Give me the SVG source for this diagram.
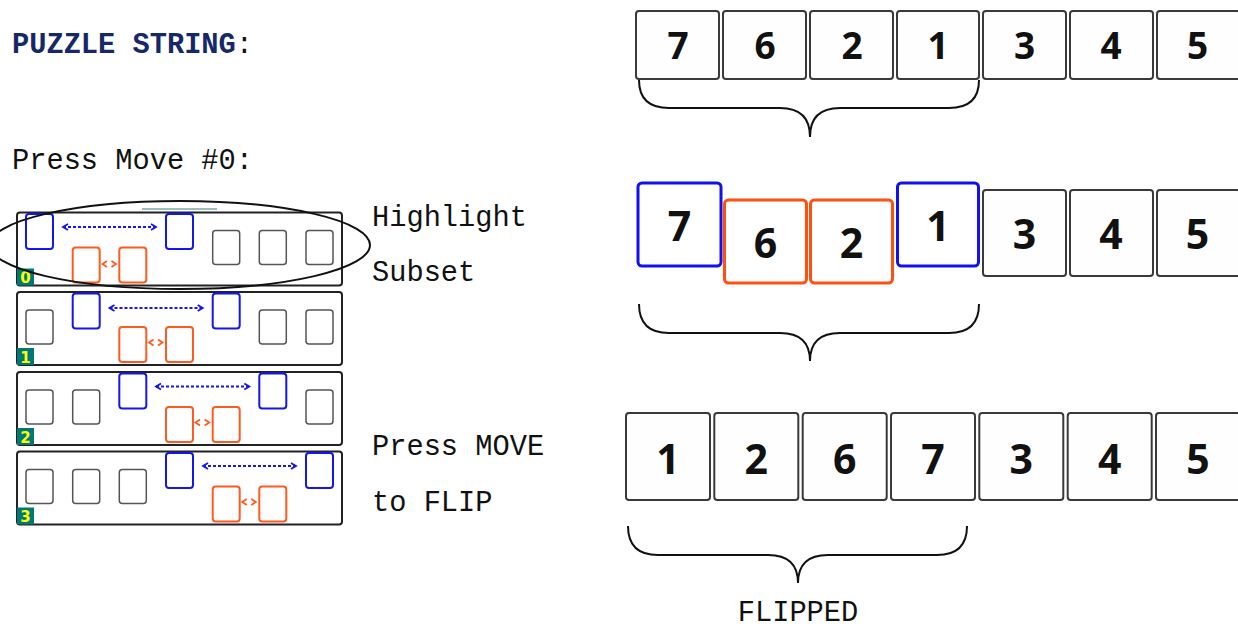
<svg xmlns="http://www.w3.org/2000/svg" width="1238" height="630" viewBox="0 0 1238 630">
  <defs>
    <style>
      .mono { font-family: "Liberation Mono", "Courier New", monospace; font-size: 28.7px; fill: #111; }
      .title { font-weight: bold; fill: #15296a; }
      .tile { fill: #fefefe; stroke: #3a3a3a; stroke-width: 2; }
      .tile-blue { fill: #fff; stroke: #1010f0; stroke-width: 3; }
      .tile-orange { fill: #fff; stroke: #ff5010; stroke-width: 3; }
      .digit { font-family: "Open Sans", "Noto Sans", sans-serif; font-weight: bold; fill: #111; text-anchor: middle; }
      .brace { fill: none; stroke: #111; stroke-width: 2; }
      .panel { fill: #fff; stroke: #222; stroke-width: 2; }
      .slot { fill: #fff; stroke: #555; stroke-width: 1.5; }
      .slot-blue { fill: #fff; stroke: #1515ee; stroke-width: 2; }
      .slot-orange { fill: #fff; stroke: #ff5a1f; stroke-width: 2; }
      .swap { fill: none; stroke: #1515ee; stroke-width: 1.8; stroke-dasharray: 3 2; }
      .chev-b { fill: none; stroke: #1515ee; stroke-width: 1.8; }
      .chev-o { fill: none; stroke: #ff5a1f; stroke-width: 1.8; }
      .badge { fill: #007878; }
      .badge-text { font-family: "DejaVu Sans", sans-serif; font-weight: bold; font-size: 15px; fill: #ffff00; text-anchor: middle; }
    </style>
    <!-- slot shapes used inside the move panels -->
    <g id="slot-gray"><rect class="slot" width="27" height="34" rx="3"/></g>
    <g id="slot-blue"><rect class="slot-blue" width="27" height="35" rx="3"/></g>
    <g id="slot-orange"><rect class="slot-orange" width="27" height="35" rx="3"/></g>
  </defs>

  <rect width="1238" height="630" fill="#fff"/>

  <!-- left column labels -->
  <text class="mono" x="12" y="53"><tspan class="title">PUZZLE STRING</tspan>:</text>
  <text class="mono" x="12" y="169">Press Move #0:</text>
  <text class="mono" x="372" y="226">Highlight</text>
  <text class="mono" x="372" y="281">Subset</text>
  <text class="mono" x="372" y="455">Press MOVE</text>
  <text class="mono" x="372" y="511">to FLIP</text>

  <!-- move panels: blue pair at slots k and k+3, orange pair at k+1 and k+2 -->
  <line x1="142" y1="209" x2="217" y2="209" stroke="#3a7d7d" stroke-width="1"/>

  <g id="panel-0">
    <rect class="panel" x="17" y="212.5" width="325" height="73" rx="3"/>
    <use href="#slot-blue" x="26" y="214"/>
    <use href="#slot-orange" x="72.7" y="247.5"/>
    <use href="#slot-orange" x="119.3" y="247.5"/>
    <use href="#slot-blue" x="166" y="214"/>
    <use href="#slot-gray" x="212.7" y="230.5"/>
    <use href="#slot-gray" x="259.3" y="230.5"/>
    <use href="#slot-gray" x="306" y="230.5"/>
    <line class="swap" x1="63" y1="227" x2="156" y2="227"/>
    <polyline class="chev-b" points="68,224 63,227 68,230"/>
    <polyline class="chev-b" points="151,224 156,227 151,230"/>
    <polyline class="chev-o" points="107,261 102.5,264 107,267"/>
    <polyline class="chev-o" points="111.5,261 116,264 111.5,267"/>
    <rect class="badge" x="17" y="268.5" width="17" height="17"/>
    <text class="badge-text" x="25.5" y="283">0</text>
  </g>

  <g id="panel-1">
    <rect class="panel" x="17" y="292" width="325" height="73" rx="3"/>
    <use href="#slot-gray" x="26" y="310"/>
    <use href="#slot-blue" x="72.7" y="293.5"/>
    <use href="#slot-orange" x="119.3" y="327"/>
    <use href="#slot-orange" x="166" y="327"/>
    <use href="#slot-blue" x="212.7" y="293.5"/>
    <use href="#slot-gray" x="259.3" y="310"/>
    <use href="#slot-gray" x="306" y="310"/>
    <line class="swap" x1="109.5" y1="308" x2="202.7" y2="308"/>
    <polyline class="chev-b" points="114.5,305 109.5,308 114.5,311"/>
    <polyline class="chev-b" points="197.7,305 202.7,308 197.7,311"/>
    <polyline class="chev-o" points="153.5,339.5 149,342.5 153.5,345.5"/>
    <polyline class="chev-o" points="158,339.5 162.5,342.5 158,345.5"/>
    <rect class="badge" x="17" y="348" width="17" height="17"/>
    <text class="badge-text" x="25.5" y="362.5">1</text>
  </g>

  <g id="panel-2">
    <rect class="panel" x="17" y="372" width="325" height="73" rx="3"/>
    <use href="#slot-gray" x="26" y="390"/>
    <use href="#slot-gray" x="72.7" y="390"/>
    <use href="#slot-blue" x="119.3" y="373.5"/>
    <use href="#slot-orange" x="166" y="407"/>
    <use href="#slot-orange" x="212.7" y="407"/>
    <use href="#slot-blue" x="259.3" y="373.5"/>
    <use href="#slot-gray" x="306" y="390"/>
    <line class="swap" x1="156" y1="386.5" x2="249.3" y2="386.5"/>
    <polyline class="chev-b" points="161,383.5 156,386.5 161,389.5"/>
    <polyline class="chev-b" points="244.3,383.5 249.3,386.5 244.3,389.5"/>
    <polyline class="chev-o" points="200,419.5 195.5,422.5 200,425.5"/>
    <polyline class="chev-o" points="204.7,419.5 209.2,422.5 204.7,425.5"/>
    <rect class="badge" x="17" y="428" width="17" height="17"/>
    <text class="badge-text" x="25.5" y="442.5">2</text>
  </g>

  <g id="panel-3">
    <rect class="panel" x="17" y="451.5" width="325" height="73" rx="3"/>
    <use href="#slot-gray" x="26" y="469.5"/>
    <use href="#slot-gray" x="72.7" y="469.5"/>
    <use href="#slot-gray" x="119.3" y="469.5"/>
    <use href="#slot-blue" x="166" y="453"/>
    <use href="#slot-orange" x="212.7" y="486.5"/>
    <use href="#slot-orange" x="259.3" y="486.5"/>
    <use href="#slot-blue" x="306" y="453"/>
    <line class="swap" x1="203" y1="466" x2="296" y2="466"/>
    <polyline class="chev-b" points="208,463 203,466 208,469"/>
    <polyline class="chev-b" points="291,463 296,466 291,469"/>
    <polyline class="chev-o" points="246.7,499 242.2,502 246.7,505"/>
    <polyline class="chev-o" points="251.3,499 255.8,502 251.3,505"/>
    <rect class="badge" x="17" y="507.5" width="17" height="17"/>
    <text class="badge-text" x="25.5" y="522">3</text>
  </g>

  <!-- selection ring around the first panel -->
  <ellipse cx="180" cy="245" rx="190" ry="44" fill="none" stroke="#111" stroke-width="2"/>

  <!-- starting string -->
  <g id="row-start">
    <rect class="tile" x="636" y="11" width="83" height="68" rx="3"/>
    <rect class="tile" x="723" y="11" width="83" height="68" rx="3"/>
    <rect class="tile" x="810" y="11" width="83" height="68" rx="3"/>
    <rect class="tile" x="897" y="11" width="82" height="68" rx="3"/>
    <rect class="tile" x="983" y="11" width="83" height="68" rx="3"/>
    <rect class="tile" x="1070" y="11" width="83" height="68" rx="3"/>
    <rect class="tile" x="1157" y="11" width="83" height="68" rx="3"/>
    <g class="digit" font-size="37">
      <text x="678" y="58.5">7</text>
      <text x="765" y="58.5">6</text>
      <text x="852" y="58.5">2</text>
      <text x="938" y="58.5">1</text>
      <text x="1024.5" y="58.5">3</text>
      <text x="1111" y="58.5">4</text>
      <text x="1197.5" y="58.5">5</text>
    </g>
  </g>

  <!-- highlighted subset -->
  <g id="row-highlight">
    <rect class="tile-blue" x="638" y="183" width="83" height="83" rx="4"/>
    <rect class="tile-orange" x="724.5" y="200" width="82" height="83" rx="4"/>
    <rect class="tile-orange" x="810.5" y="200" width="82" height="83" rx="4"/>
    <rect class="tile-blue" x="897.5" y="183" width="81" height="83" rx="4"/>
    <rect class="tile" x="983" y="190" width="83" height="86" rx="3"/>
    <rect class="tile" x="1070" y="190" width="83" height="86" rx="3"/>
    <rect class="tile" x="1157" y="190" width="83" height="86" rx="3"/>
    <g class="digit" font-size="41">
      <text x="679.5" y="241">7</text>
      <text x="765.5" y="258">6</text>
      <text x="851.5" y="258">2</text>
      <text x="938" y="241">1</text>
      <text x="1024.5" y="249">3</text>
      <text x="1111" y="249">4</text>
      <text x="1197.5" y="249">5</text>
    </g>
  </g>

  <!-- flipped string -->
  <g id="row-flipped">
    <rect class="tile" x="626" y="413" width="84" height="87" rx="3"/>
    <rect class="tile" x="714.3" y="413" width="84" height="87" rx="3"/>
    <rect class="tile" x="802.7" y="413" width="84" height="87" rx="3"/>
    <rect class="tile" x="891" y="413" width="84" height="87" rx="3"/>
    <rect class="tile" x="979.3" y="413" width="84" height="87" rx="3"/>
    <rect class="tile" x="1067.7" y="413" width="84" height="87" rx="3"/>
    <rect class="tile" x="1156" y="413" width="84" height="87" rx="3"/>
    <g class="digit" font-size="41">
      <text x="668" y="474">1</text>
      <text x="756.3" y="474">2</text>
      <text x="844.7" y="474">6</text>
      <text x="933" y="474">7</text>
      <text x="1021.3" y="474">3</text>
      <text x="1109.7" y="474">4</text>
      <text x="1198" y="474">5</text>
    </g>
  </g>

  <!-- braces under the first four tiles -->
  <g id="braces">
    <path class="brace" d="M639,80 Q639,108 669,108 L780,108 Q810,108 810,137 Q810,108 840,108 L949,108 Q979,108 979,80"/>
    <path class="brace" d="M639,304 Q639,333 669,333 L780,333 Q810,333 810,361 Q810,333 840,333 L949,333 Q979,333 979,304"/>
    <path class="brace" d="M628,526 Q628,555 658,555 L768,555 Q798,555 798,583 Q798,555 828,555 L937,555 Q967,555 967,526"/>
  </g>

  <text class="mono" x="798" y="621" text-anchor="middle">FLIPPED</text>
</svg>
